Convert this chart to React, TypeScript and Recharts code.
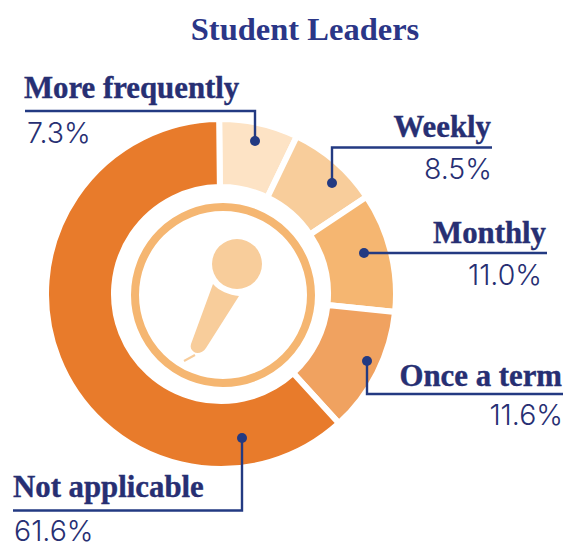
import React from 'react';
import { Cell, Pie, PieChart } from 'recharts';

const categories = ['More frequently', 'Weekly', 'Monthly', 'Once a term', 'Not applicable'];
const shares = [7.3, 8.5, 11.0, 11.6, 61.6];
const sliceColors = ['#FDE3C5', '#F8CD9B', '#F5B671', '#F0A260', '#E87B2B'];

const data = categories.map((name, i) => ({ name, value: shares[i] }));

const NAVY = '#233A82';
const TEXT = '#272F73';
const SERIF = '"Liberation Serif", serif';
const SANS = 'Inter, sans-serif';

// callout layout, in the same order as categories
const callouts = [
  { path: 'M25 111H255V141', dot: [255, 141], x: 24, anchor: 'start', nameY: 98, valueX: 27, valueY: 143 },
  { path: 'M492 147.5H332V183', dot: [332, 183], x: 491, anchor: 'end', nameY: 137, valueX: 492, valueY: 179 },
  { path: 'M547 253H364', dot: [364, 253], x: 546, anchor: 'end', nameY: 243, valueX: 542, valueY: 285 },
  { path: 'M367 361V394H563', dot: [367, 361], x: 562, anchor: 'end', nameY: 386, valueX: 563, valueY: 425 },
  { path: 'M242 438V510.5H13', dot: [242, 438], x: 13, anchor: 'start', nameY: 497, valueX: 14, valueY: 541 },
];

const Callout = (props: any) => {
  const c = callouts[props.index];
  const anchor = c.anchor as 'start' | 'end';
  return (
    <g>
      <path d={c.path} fill="none" stroke={NAVY} strokeWidth={2.4} />
      <circle cx={c.dot[0]} cy={c.dot[1]} r={5} fill={NAVY} />
      <text
        x={c.x}
        y={c.nameY}
        textAnchor={anchor}
        fill={TEXT}
        stroke={TEXT}
        strokeWidth={0.4}
        fontFamily={SERIF}
        fontWeight={700}
        fontSize={30.8}
      >
        {props.name}
      </text>
      <text x={c.valueX} y={c.valueY} textAnchor={anchor} fill={TEXT} fontFamily={SANS} fontWeight={300} fontSize={28.5}>
        {props.value.toFixed(1)}%
      </text>
    </g>
  );
};

export default function App() {
  return (
    <div style={{ position: 'absolute', left: 0, top: 0, width: 563, height: 549 }}>
      <PieChart width={563} height={549} margin={{ top: 0, right: 0, bottom: 0, left: 0 }}>
        <text x={305} y={40} textAnchor="middle" fill="#2B3687" fontFamily={SERIF} fontWeight={700} fontSize={32.5}>
          Student Leaders
        </text>
        <circle cx={223} cy={295} r={88} fill="none" stroke="#F5B671" strokeWidth={8} />
        <circle cx={237} cy={264} r={25} fill="#F8CD9B" />
        <path
          d="M213 284C219 291 229 295 239 296L206 348C203 353 197 354 194 352C191 350 190 347 191 344Z"
          fill="#F8CD9B"
        />
        <path d="M184 361L195 355" stroke="#F8CD9B" strokeWidth={2} />
        <Pie
          data={data}
          dataKey="value"
          nameKey="name"
          cx={221}
          cy={294}
          innerRadius={107}
          outerRadius={175}
          startAngle={90.6}
          endAngle={-269.4}
          stroke="#fff"
          strokeWidth={6}
          label={Callout}
          labelLine={false}
          isAnimationActive={false}
        >
          {categories.map((name, i) => (
            <Cell key={name} fill={sliceColors[i]} />
          ))}
        </Pie>
      </PieChart>
    </div>
  );
}
